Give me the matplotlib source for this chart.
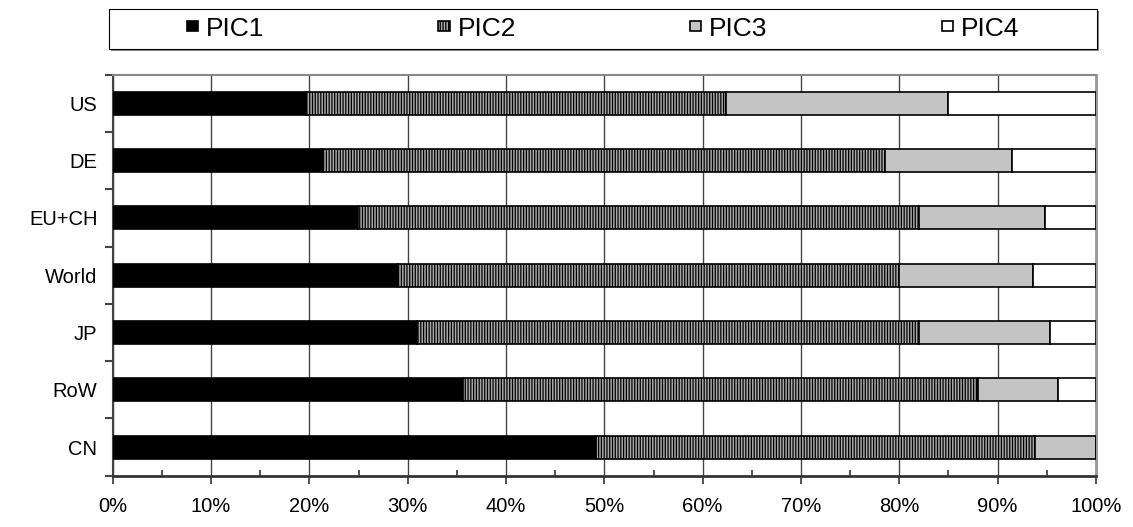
import matplotlib.pyplot as plt
from matplotlib.patches import Rectangle
from matplotlib.ticker import MultipleLocator, FuncFormatter
import numpy as np

plt.rcParams['font.family'] = ['Liberation Sans', 'DejaVu Sans']
plt.rcParams['hatch.linewidth'] = 0.9

regions = ['US', 'DE', 'EU+CH', 'World', 'JP', 'RoW', 'CN']
series = ['PIC1', 'PIC2', 'PIC3', 'PIC4']
pic1 = [19.7, 21.4, 24.9, 29.0, 30.9, 35.6, 49.2]
pic2 = [42.7, 57.1, 57.1, 51.0, 51.1, 52.4, 44.6]
pic3 = [22.6, 13.0, 12.8, 13.6, 13.3, 8.1, 6.2]
pic4 = [15.0, 8.5, 5.2, 6.4, 4.7, 3.9, 0.0]

faces = ['black', '#a8a8a8', '#c4c4c4', 'white']
hatches = [None, '||||||', None, None]

fig = plt.figure(figsize=(11.33, 5.27), dpi=100)
ax = fig.add_axes([0.0995, 0.0973, 0.8678, 0.761])

y = np.arange(len(regions))
left = np.zeros(len(regions))
for name, vals, fc, h in zip(series, [pic1, pic2, pic3, pic4], faces, hatches):
    ax.barh(y, vals, 0.4, left=left, color=fc, edgecolor='black',
            linewidth=1.2, hatch=h, label=name, zorder=3)
    left += np.array(vals)

ax.set_xlim(0, 100)
ax.set_ylim(len(regions) - 0.5, -0.5)
ax.set_yticks(y)
ax.set_yticklabels(regions)
ax.set_yticks(np.arange(len(regions) + 1) - 0.5, minor=True)
ax.tick_params(axis='y', which='major', length=0, pad=11, labelsize=14.5)
ax.tick_params(axis='y', which='minor', length=5.5, width=1.5, color='#444444', direction='out')

ax.xaxis.set_major_locator(MultipleLocator(10))
ax.xaxis.set_minor_locator(MultipleLocator(5))
ax.xaxis.set_major_formatter(FuncFormatter(lambda v, p: f'{int(round(v))}%'))
ax.tick_params(axis='x', which='major', length=5.5, width=1.2, color='#333333',
               direction='out', pad=10, labelsize=14.5)
ax.tick_params(axis='x', which='minor', length=4, width=1.2, color='#333333', direction='in')

ax.grid(axis='x', which='major', color='#444444', linewidth=1, zorder=0)
ax.set_axisbelow(True)

ax.spines['top'].set_color('#888888')
ax.spines['top'].set_linewidth(1.5)
ax.spines['right'].set_color('#999999')
ax.spines['right'].set_linewidth(2)
ax.spines['left'].set_color('#444444')
ax.spines['left'].set_linewidth(1.5)
ax.spines['bottom'].set_color('#333333')
ax.spines['bottom'].set_linewidth(2)

# legend box across the top
bx, by, bw, bh = 109 / 1133, 1 - 49 / 527, 988 / 1133, 40 / 527
fig.patches.append(Rectangle((bx + 0.002, by - 0.004), bw, bh, transform=fig.transFigure,
                             facecolor='#888888', edgecolor='none', zorder=0))
fig.patches.append(Rectangle((bx, by), bw, bh, transform=fig.transFigure,
                             facecolor='white', edgecolor='black', linewidth=0.8, zorder=1))
fig.legend(loc='center', bbox_to_anchor=(bx + bw / 2, by + bh / 2), ncol=4,
           frameon=False, fontsize=19, handlelength=0.42, handleheight=0.2,
           handletextpad=0.3, columnspacing=6.6)

fig.savefig('out.png', dpi=100)
